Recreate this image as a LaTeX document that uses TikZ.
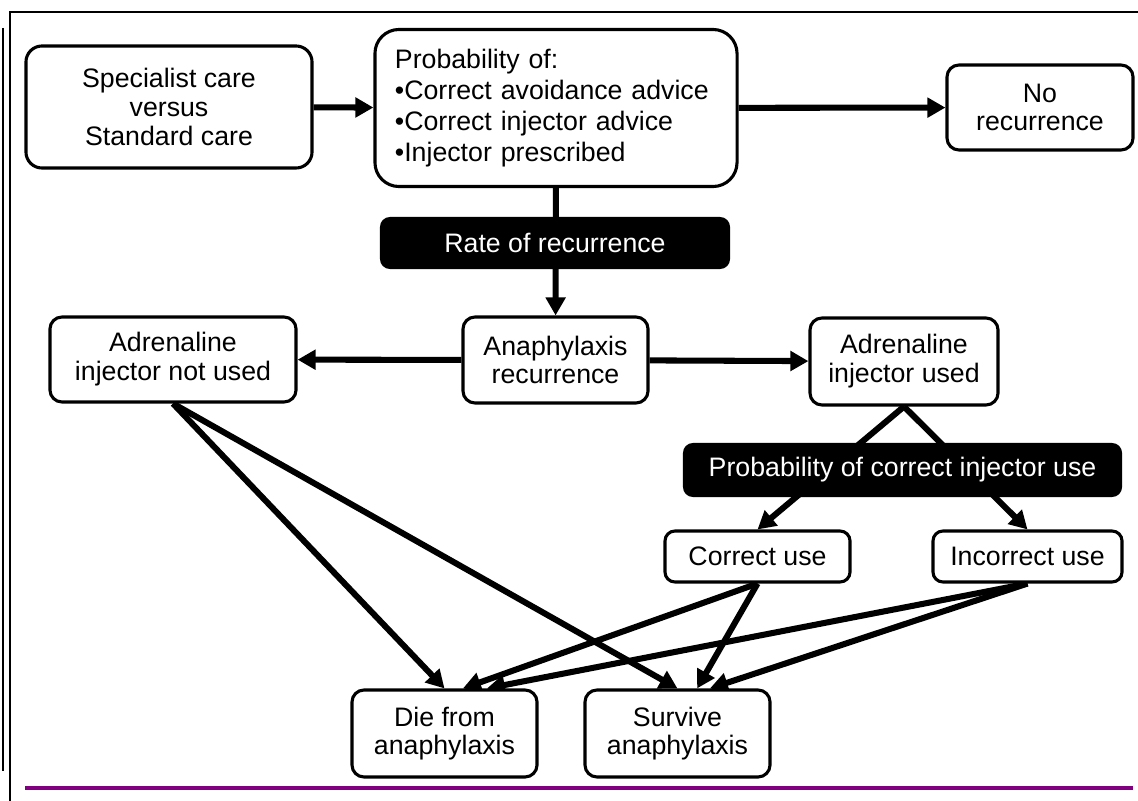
\documentclass[tikz,border=0pt]{standalone}
\usepackage{fontspec}
\setmainfont{Liberation Sans}
\usepackage{xcolor}
\usepackage{tikz}
\usetikzlibrary{arrows.meta,positioning,shapes,backgrounds}

\definecolor{rulepurple}{RGB}{128,0,128}

\begin{document}
\begin{tikzpicture}[x=0.025cm, y=-0.025cm,
    every node/.style={font=\fontsize{19}{20.5}\selectfont},
    box/.style={draw, line width=2.2pt, fill=white, rounded corners=0.3cm,
                align=center, inner sep=0pt},
    blackbox/.style={fill=black, text=white, rounded corners=0.25cm,
                align=center, inner sep=0pt},
    link/.style={line width=4.3pt, -{Triangle[length=0.45cm, width=0.48cm]}}]
    \useasboundingbox (0,0) rectangle (1138,801);

    % page frame
    \draw[line width=1.2pt] (3,28) -- (3,771);
    \draw[line width=1.4pt] (10,801) -- (10,12) -- (1138,12);
    \draw[rulepurple, line width=2.3pt] (25,788) -- (1133,788);

    % top row
    \node[box, minimum width=7.15cm, minimum height=3.05cm, rounded corners=0.4cm]
        (care) at (169,107) {Specialist care\\versus\\Standard care};
    \node[box, minimum width=9.05cm, minimum height=3.925cm, rounded corners=0.6cm,
          text width=8.05cm, align=left, font=\fontsize{19}{22}\selectfont]
        (advice) at (556,108) {Probability of:\\%
        \textbullet Correct avoidance advice\\%
        \textbullet Correct injector advice\\%
        \textbullet Injector prescribed};
    \node[box, minimum width=4.65cm, minimum height=2.125cm]
        (norecur) at (1040,107.5) {No\\recurrence};

    \node[blackbox, minimum width=8.75cm, minimum height=1.3cm]
        (rate) at (555,243) {Rate of recurrence};

    % middle row
    \node[box, minimum width=4.625cm, minimum height=2.15cm]
        (recur) at (555.5,360) {Anaphylaxis\\recurrence};
    \node[box, minimum width=6.15cm, minimum height=2.125cm]
        (notused) at (173,359.5) {Adrenaline\\injector not used};
    \node[box, minimum width=4.7cm, minimum height=2.175cm]
        (used) at (904,361.5) {Adrenaline\\injector used};

    \node[blackbox, minimum width=10.975cm, minimum height=1.35cm]
        (useprob) at (902.5,470) {Probability of correct injector use};

    \node[box, minimum width=4.625cm, minimum height=1.275cm, rounded corners=0.25cm]
        (correct) at (757.5,556.5) {Correct use};
    \node[box, minimum width=4.725cm, minimum height=1.275cm, rounded corners=0.25cm]
        (incorrect) at (1027.5,556.5) {Incorrect use};

    % outcomes
    \node[box, minimum width=4.625cm, minimum height=2.175cm]
        (die) at (444.5,733.5) {Die from\\anaphylaxis};
    \node[box, minimum width=4.625cm, minimum height=2.175cm]
        (survive) at (677.5,733.5) {Survive\\anaphylaxis};

    \begin{scope}[on background layer]
    \draw[link] (care) -- (advice);
    \draw[link] (advice) -- (norecur);
    \draw[link] (advice) -- (recur);
    \draw[link] (recur) -- (notused);
    \draw[link] (recur) -- (used);
    \draw[link] (used.south) -- (correct.north);
    \draw[link] (used.south) -- (incorrect.north);
    \draw[link] (notused.south) -- (die.north);
    \draw[link] (notused.south) -- (survive.north);
    \draw[link] (correct.south) -- ([xshift=0.46cm]die.north);
    \draw[link] (correct.south) -- ([xshift=0.49cm]survive.north);
    \draw[link] (incorrect.south) -- ([xshift=1.06cm]die.north);
    \draw[link] (incorrect.south) -- ([xshift=0.81cm]survive.north);
    \end{scope}
\end{tikzpicture}
\end{document}
